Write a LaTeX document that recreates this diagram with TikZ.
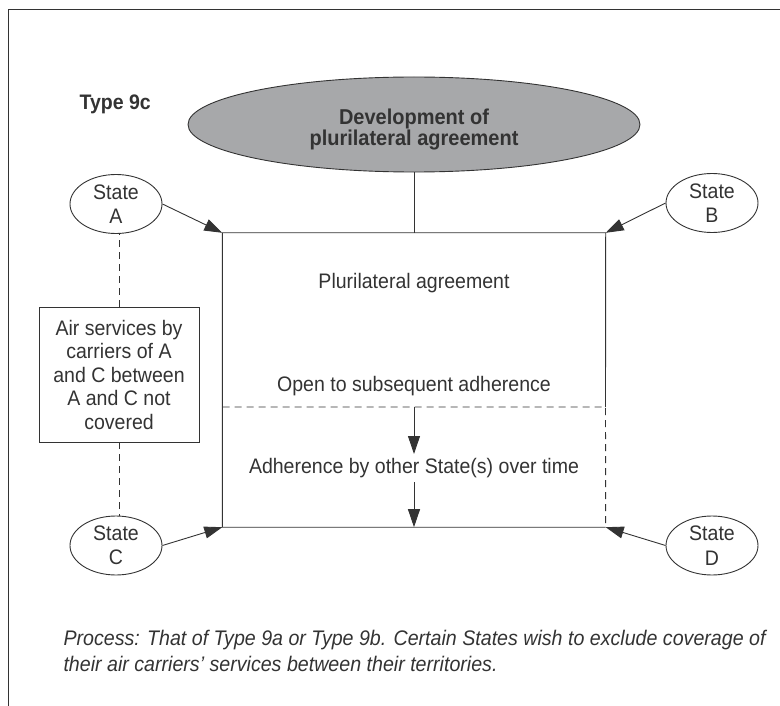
\documentclass[tikz,border=0pt]{standalone}
\usepackage{fontspec}
\setmainfont{Liberation Sans}[FakeStretch=0.93]
\usetikzlibrary{shapes.geometric,arrows.meta}
\definecolor{ink}{HTML}{333333}
\definecolor{devfill}{HTML}{A7A8AA}
\begin{document}
\begin{tikzpicture}[x=1pt,y=-1pt,
  every node/.style={text=ink,font=\fontsize{21}{24}\selectfont},
  line/.style={draw=ink,line width=0.9pt},
  dashline/.style={line,dash pattern=on 7pt off 5pt},
  tip/.style={-{Triangle[length=18pt,width=12pt]}},
  statebox/.style={ellipse,draw=ink,line width=0.9pt,minimum width=92pt,
    minimum height=59pt,inner sep=0pt,align=center,fill=white,
    font=\fontsize{21}{24.5}\selectfont},
  notebox/.style={rectangle,draw=ink,line width=0.9pt,minimum width=160pt,
    minimum height=135pt,inner sep=0pt,align=center,
    font=\fontsize{21}{23.5}\selectfont},
  devbox/.style={ellipse,draw=ink,line width=0.9pt,fill=devfill,
    minimum width=452pt,minimum height=95pt,inner sep=0pt},
  headtext/.style={font=\bfseries\fontsize{21.5}{21}\selectfont,align=center},
  caption/.style={font=\itshape\fontsize{21.1}{26}\selectfont,align=left}]
\useasboundingbox (0,0) rectangle (780,706);

% open frame: top and left edges only
\coordinate (frTL) at (8,9);
\coordinate (frTR) at (780,9);
\coordinate (frBL) at (8,706);
\draw[line] (frTR) -- (frTL) -- (frBL);

\node[font=\bfseries\fontsize{21}{21}\selectfont,anchor=west] (type) at (76,104) {Type 9c};

% development ellipse
\node[devbox] (dev) at (414,124.5) {};
\node[headtext] (devtext) at (414,129) {Development of\\plurilateral agreement};

% agreement box
\node[minimum width=383pt,minimum height=294pt,inner sep=0pt] (main) at (414,380) {};
\coordinate (dl) at (222.5,407);
\coordinate (dr) at (605.5,407);
\draw[line] (dr) -- (main.north east) -- (main.north west) -- (main.south west) -- (main.south east);
\draw[dashline] (dl) -- (dr) -- (main.south east);
\draw[line] (dev.south) -- (main.north);

\node (plur) at (414,283) {Plurilateral agreement};
\node (open) at (414,386) {Open to subsequent adherence};
\node (adh) at (414,468) {Adherence by other State(s) over time};

\coordinate (a1s) at (414,407);
\coordinate (a1e) at (414,454);
\coordinate (a2s) at (414,482);
\draw[line,tip] (a1s) -- (a1e);
\draw[line,tip] (a2s) -- (main.south);

% states
\node[statebox] (sA) at (116,204) {State\\A};
\node[statebox] (sB) at (712,203) {State\\B};
\node[statebox] (sC) at (116,545.5) {State\\C};
\node[statebox] (sD) at (712,545.5) {State\\D};

\draw[line,tip] (sA.east) -- (main.north west);
\draw[line,tip] (sB.west) -- (main.north east);
\draw[line,tip] (sC.east) -- (main.south west);
\draw[line,tip] (sD.west) -- (main.south east);

% exclusion note between A and C
\node[notebox] (air) at (119,374.5) {Air services by\\carriers of A\\and C between\\A and C not\\covered};
\draw[dashline] (air.north) -- (air.north |- sA.south);
\draw[dashline] (air.south) -- (air.south |- sC.north);

\node[caption,anchor=west] (proc) at (60,651) {Process: That of Type 9a or Type 9b. Certain States wish to exclude coverage of\\their air carriers' services between their territories.};
\end{tikzpicture}
\end{document}
